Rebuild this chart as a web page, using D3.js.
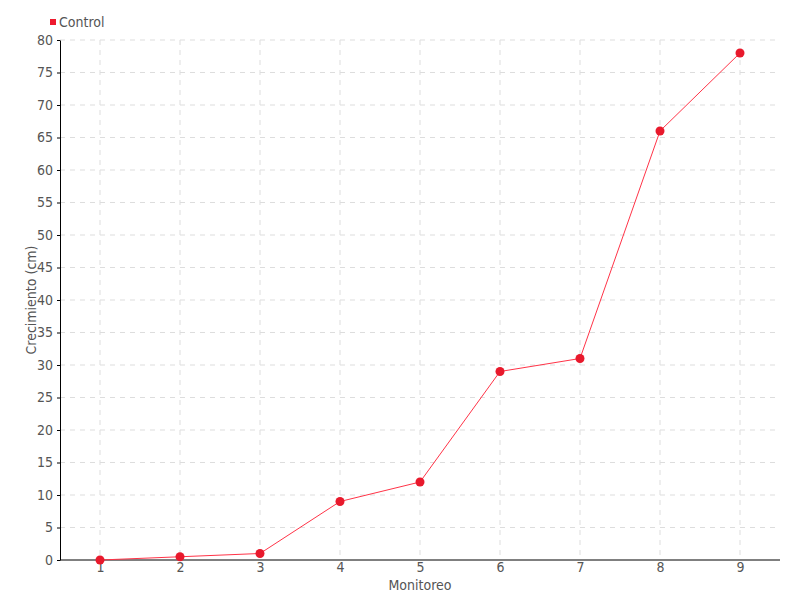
<!DOCTYPE html>
<meta charset="utf-8">
<html>
  <head>
    <title>Crecimiento</title>
    <style>
      html,body{ margin:0; padding:0; background:#fff; }
      text{ font-family: 'Liberation Sans Narrow', 'DejaVu Sans Condensed', sans-serif; fill:#555; }
      .grid line{ stroke:#ddd; stroke-dasharray:5,5; }
      .axis path, .axis line{ stroke:#000; }
    </style>
  </head>
  <body>
    <svg xmlns="http://www.w3.org/2000/svg"></svg>
    <script src="https://d3js.org/d3.v7.min.js"></script>
    <script>
      var width = 800, height = 600;
      var margin = {top: 40, right: 20, bottom: 40, left: 60};

      // data
      var categories = ['1','2','3','4','5','6','7','8','9'];
      var controlValues = [0, 0.5, 1, 9, 12, 29, 31, 66, 78];
      var yTicks = d3.range(0, 81, 5);

      var svg = d3.select('svg').attr('width', width).attr('height', height);

      var x = d3.scalePoint()
        .domain(categories)
        .range([margin.left, width - margin.right])
        .padding(0.5);
      var y = d3.scaleLinear()
        .domain([0, 80])
        .range([height - margin.bottom, margin.top]);

      // grid
      var grid = svg.append('g').attr('class', 'grid');
      grid.selectAll('line.h').data(yTicks.slice(1)).enter()
        .append('line').attr('class', 'h')
        .attr('x1', margin.left).attr('x2', width - margin.right)
        .attr('y1', function(d){ return y(d); })
        .attr('y2', function(d){ return y(d); });
      grid.selectAll('line.v').data(categories).enter()
        .append('line').attr('class', 'v')
        .attr('x1', function(d){ return x(d); })
        .attr('x2', function(d){ return x(d); })
        .attr('y1', margin.top).attr('y2', height - margin.bottom);

      // axes
      var yAxis = svg.append('g').attr('class', 'axis')
        .attr('transform', 'translate(' + margin.left + ',0)')
        .call(d3.axisLeft(y).tickValues(yTicks).tickSize(3).tickSizeOuter(0).tickPadding(4));
      yAxis.selectAll('text').style('font-size', '14px');

      var xAxis = svg.append('g').attr('class', 'axis')
        .attr('transform', 'translate(0,' + (height - margin.bottom) + ')')
        .call(d3.axisBottom(x).tickSize(0).tickPadding(2));
      xAxis.select('.domain').attr('d', 'M' + margin.left + ',0H' + (width - margin.right));
      xAxis.selectAll('text').style('font-size', '14px');

      // axis titles
      svg.append('text')
        .attr('transform', 'translate(36,' + ((margin.top + height - margin.bottom) / 2) + ') rotate(-90)')
        .attr('text-anchor', 'middle')
        .style('font-size', '14px')
        .text('Crecimiento (cm)');
      svg.append('text')
        .attr('x', (margin.left + width - margin.right) / 2)
        .attr('y', 590)
        .attr('text-anchor', 'middle')
        .style('font-size', '14px')
        .text('Monitoreo');

      // line and points
      var line = d3.line()
        .x(function(d, i){ return x(categories[i]); })
        .y(function(d){ return y(d); });
      svg.append('path')
        .datum(controlValues)
        .attr('d', line)
        .attr('fill', 'none')
        .attr('stroke', '#ff3347')
        .attr('stroke-width', 1);
      svg.selectAll('circle.pt').data(controlValues).enter()
        .append('circle').attr('class', 'pt')
        .attr('cx', function(d, i){ return x(categories[i]); })
        .attr('cy', function(d){ return y(d); })
        .attr('r', 4.5)
        .attr('fill', '#e8192c');

      // legend
      var legend = svg.append('g').attr('transform', 'translate(50,22)');
      legend.append('rect').attr('x', 0).attr('y', -3).attr('width', 6).attr('height', 6).attr('fill', '#ee1a2e');
      legend.append('text').attr('x', 9).attr('y', 5).style('font-size', '14px').text('Control');
    </script>
  </body>
</html>
